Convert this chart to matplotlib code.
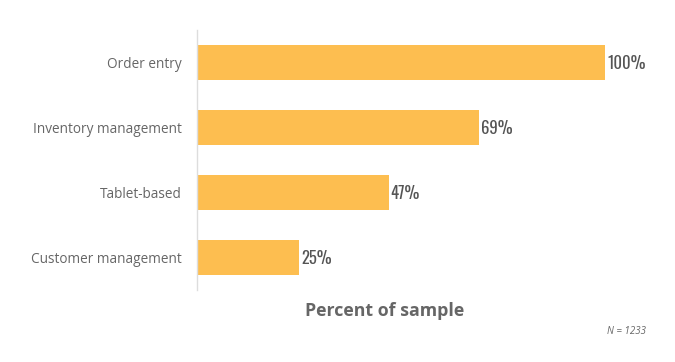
import matplotlib
matplotlib.use('Agg')
import matplotlib.pyplot as plt
from matplotlib import font_manager

categories = ['Order entry', 'Inventory management', 'Tablet-based', 'Customer management']
values = [100, 69, 47, 25]
value_labels = ['100%', '69%', '47%', '25%']

BAR = '#FDBE50'
GREY = '#666666'

# condensed face for the value labels, first one that is installed
names = {f.name for f in font_manager.fontManager.ttflist}
num_font = next((n for n in ['Oswald', 'Roboto Condensed', 'Barlow Condensed', 'Archivo Narrow']
                 if n in names), 'DejaVu Sans')

W, H = 675, 362
fig = plt.figure(figsize=(W / 100, H / 100), dpi=100)
ax = fig.add_axes([197 / W, 1 - 290 / H, (605 - 197) / W, 260 / H])

ypos = list(range(len(categories)))
ax.barh(ypos, values, height=0.54, color=BAR)
ax.set_xlim(0, 100)
ax.set_ylim(3.5, -0.5)

for y, v, lab in zip(ypos, values, value_labels):
    ax.text(v + 0.5, y + 0.02, lab, va='center', ha='left', fontsize=12, fontweight='bold',
            family=num_font, color='#555555', clip_on=False)

ax.set_yticks(ypos)
ax.set_yticklabels(categories, fontsize=9.8, color=GREY, family='Open Sans')
ax.tick_params(axis='y', length=0, pad=11)
ax.set_xticks([])
for s in ['top', 'right', 'bottom']:
    ax.spines[s].set_visible(False)
ax.spines['left'].set_color('#dddddd')
ax.spines['left'].set_linewidth(1)

fig.text(385 / W, 1 - 311 / H, 'Percent of sample', ha='center', va='center',
         fontsize=12.8, fontweight='bold', color=GREY, family='Open Sans')
fig.text(646 / W, 1 - 331 / H, 'N = 1233', ha='right', va='center',
         fontsize=7, style='italic', color=GREY, family='Open Sans')

fig.savefig('out.png', dpi=100)
